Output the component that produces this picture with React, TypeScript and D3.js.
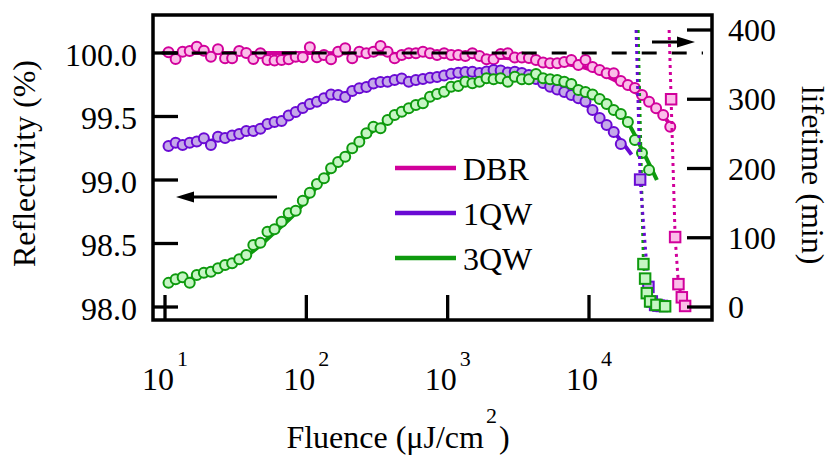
import React from 'react';
import * as d3 from 'd3';

// ---------- data ----------
const fluence = [
  10.59, 11.89, 13.33, 14.96, 16.79, 18.84, 21.13, 23.71, 26.61, 29.85, 33.5, 37.58, 42.17, 47.32, 53.09, 59.57, 66.83, 74.99, 84.14, 94.41,
  105.9, 118.9, 133.3, 149.6, 167.9, 188.4, 211.3, 237.1, 266.1, 298.5, 335.0, 375.8, 421.7, 473.2, 530.9, 595.7, 668.3, 749.9, 841.4, 944.1,
  1059, 1189, 1333, 1496, 1679, 1884, 2113, 2371, 2661, 2985, 3350, 3758, 4217, 4732, 5309, 5957, 6683, 7499, 8414, 9441,
  10590, 11890, 13330, 14960, 16790, 18840, 21130, 23710, 26610, 29850, 33500, 37580,
];

const dbrR = [
  100.005, 99.953, 100.01, 100.016, 100.05, 100.018, 99.971, 100.03, 99.958, 99.958,
  100.016, 100.0, 99.953, 99.998, 99.945, 99.94, 99.945, 99.95, 99.97, 99.966,
  100.045, 99.966, 99.984, 99.95, 100.01, 100.037, 99.958, 100.01, 99.998, 100.01,
  100.055, 100.01, 99.958, 99.984, 99.998, 99.998, 100.01, 99.998, 99.984, 99.998,
  99.984, 99.984, 99.976, 99.998, 99.976, 99.95, 99.95, 99.992, 99.998, 99.965,
  99.965, 99.96, 99.945, 99.925, 99.919, 99.919, 99.93, 99.945, 99.906, 99.945,
  99.89, 99.866, 99.84, 99.84, 99.78, 99.748, 99.724, 99.669, 99.617, 99.565, 99.512, 99.42,
];

const qw1R = [
  99.268, 99.294, 99.276, 99.294, 99.303, 99.328, 99.276, 99.341, 99.331, 99.35,
  99.362, 99.386, 99.386, 99.404, 99.441, 99.457, 99.465, 99.508, 99.535, 99.567,
  99.598, 99.617, 99.643, 99.673, 99.669, 99.654, 99.701, 99.722, 99.732, 99.76,
  99.772, 99.774, 99.787, 99.8, 99.774, 99.787, 99.795, 99.805, 99.811, 99.823,
  99.836, 99.844, 99.85, 99.853, 99.843, 99.854, 99.866, 99.862, 99.846, 99.853,
  99.843, 99.827, 99.795, 99.764, 99.735, 99.713, 99.693, 99.669, 99.643, 99.618,
  99.551, 99.488, 99.433, 99.378, 99.283,
];

const qw3R = [
  98.19, 98.218, 98.234, 98.191, 98.252, 98.27, 98.278, 98.305, 98.331, 98.344,
  98.376, 98.409, 98.488, 98.506, 98.593, 98.612, 98.672, 98.738, 98.758, 98.837,
  98.9, 98.969, 99.013, 99.092, 99.142, 99.183, 99.25, 99.302, 99.368, 99.42,
  99.407, 99.472, 99.512, 99.538, 99.565, 99.591, 99.604, 99.656, 99.677, 99.695,
  99.735, 99.74, 99.774, 99.761, 99.774, 99.801, 99.793, 99.801, 99.774, 99.813,
  99.793, 99.793, 99.835, 99.801, 99.793, 99.787, 99.774, 99.756, 99.709, 99.693,
  99.673, 99.638, 99.598, 99.551, 99.52, 99.457, 99.315, 99.213, 99.079,
];

// fit curves
const dbrFitF = [10.6, 100, 1000, 3000, 6000, 9000, 15000, 20000, 25000, 30000, 35000, 39400];
const dbrFitR = [100.0, 100.0, 99.985, 99.955, 99.92, 99.89, 99.79, 99.71, 99.64, 99.56, 99.48, 99.4];
const qw1FitF = [10.6, 21, 42, 60, 84, 106, 150, 211, 300, 421, 600, 944, 1333, 2113, 3000, 4217, 6683, 10590, 14960, 20000];
const qw1FitR = [99.28, 99.31, 99.38, 99.44, 99.52, 99.58, 99.65, 99.7, 99.745, 99.775, 99.795, 99.825, 99.845, 99.855, 99.84, 99.8, 99.7, 99.55, 99.38, 99.2];
const qw3FitF = [10.6, 15, 21, 30, 42, 60, 84, 106, 150, 211, 300, 421, 600, 944, 1333, 2113, 3350, 5309, 7499, 10590, 14960, 18840, 23710, 30200];
const qw3FitR = [98.2, 98.22, 98.27, 98.34, 98.44, 98.59, 98.74, 98.88, 99.08, 99.25, 99.39, 99.5, 99.59, 99.69, 99.75, 99.79, 99.8, 99.79, 99.73, 99.66, 99.55, 99.45, 99.24, 99.0];

// lifetime (right axis)
const dbrLifeF = [38110, 40680, 42930, 45370, 47870];
const dbrLifeT = [300, 101, 33, 14, 1.5];
const dbrLifeTop = [36890, 400];
const qw1LifeF = [23000, 26330, 27820, 29370, 31000, 32760];
const qw1LifeT = [184, 29, 8, 3, 2, 1.5];
const qw1LifeTop = [21540, 400];
const qw3LifeF = [24270, 24950, 25650, 27060, 30000, 34560];
const qw3LifeT = [62, 41, 20, 8, 3, 1];
const qw3LifeTop = [22260, 400];

const leftTicks = [98.0, 98.5, 99.0, 99.5, 100.0];
const rightTicks = [0, 100, 200, 300, 400];
const xTicks = [10, 100, 1000, 10000];
const legendNames = ['DBR', '1QW', '3QW'];

// ---------- style ----------
const C = {
  dbr: { s: '#d1009b', f: '#fbbde9' },
  qw1: { s: '#6a0ad4', f: '#c5a9e9' },
  qw3: { s: '#0e9a0e', f: '#c6f6c4' },
};
const FONT = 'Liberation Serif';

export default function App() {
  const L = 153, R = 712, T = 15, B = 320;
  const x = d3.scaleLog().domain([10, 10000]).range([165, 589]);
  const yL = d3.scaleLinear().domain([98, 100]).range([307, 53]);
  const yR = d3.scaleLinear().domain([0, 400]).range([307, 30]);

  const line = d3
    .line<[number, number]>()
    .x((d) => x(d[0]))
    .y((d) => yL(d[1]))
    .curve(d3.curveMonotoneX);
  const lineR = d3
    .line<[number, number]>()
    .x((d) => x(d[0]))
    .y((d) => yR(d[1]));

  const zip = (a: number[], b: number[]) => a.map((v, i) => [v, b[i]] as [number, number]);

  const series = [
    { key: 'dbr', R: dbrR, fitF: dbrFitF, fitR: dbrFitR, lf: dbrLifeF, lt: dbrLifeT, top: dbrLifeTop },
    { key: 'qw1', R: qw1R, fitF: qw1FitF, fitR: qw1FitR, lf: qw1LifeF, lt: qw1LifeT, top: qw1LifeTop },
    { key: 'qw3', R: qw3R, fitF: qw3FitF, fitR: qw3FitR, lf: qw3LifeF, lt: qw3LifeT, top: qw3LifeTop },
  ];

  const sq = 10.5;

  return (
    <svg width={830} height={455} style={{ position: 'absolute', left: 0, top: 0, background: '#fff' }}>
      <style>{`text, tspan { font-family: 'Liberation Serif', 'Tinos', 'Times New Roman' !important; }`}</style>
      {/* fit lines */}
      {series.map((s) => (
        <path
          key={'fit' + s.key}
          d={line(zip(s.fitF, s.fitR)) || ''}
          fill="none"
          stroke={(C as any)[s.key].s}
          strokeWidth={4}
        />
      ))}
      {/* circles */}
      {series.map((s) => (
        <g key={'c' + s.key}>
          {s.R.map((v, i) => (
            <circle
              key={i}
              cx={x(fluence[i])}
              cy={yL(v)}
              r={5}
              fill={(C as any)[s.key].f}
              stroke={(C as any)[s.key].s}
              strokeWidth={2}
            />
          ))}
        </g>
      ))}
      {/* dashed 100% line */}
      <line x1={161.7} x2={703} y1={yL(100)} y2={yL(100)} stroke="#000" strokeWidth={3} strokeDasharray="15,15" />

      {/* lifetime dotted lines and squares */}
      {[series[2], series[1], series[0]].map((s) => (
        <path
          key={'lt' + s.key}
          d={lineR([[s.top[0], s.top[1]] as [number, number], ...zip(s.lf, s.lt)]) || ''}
          fill="none"
          stroke={(C as any)[s.key].s}
          strokeWidth={3}
          strokeDasharray="3,4"
        />
      ))}
      {series.map((s) => (
        <g key={'sq' + s.key}>
          {s.lf.map((f, i) => (
            <rect
              key={i}
              x={x(f) - sq / 2}
              y={yR(s.lt[i]) - sq / 2}
              width={sq}
              height={sq}
              fill={(C as any)[s.key].f}
              stroke={(C as any)[s.key].s}
              strokeWidth={2}
            />
          ))}
        </g>
      ))}

      {/* arrows */}
      <line x1={277} x2={190} y1={197} y2={197} stroke="#000" strokeWidth={3} />
      <polygon points="176,197 194,191.5 194,202.5" fill="#000" />
      <line x1={652} x2={681} y1={42} y2={42} stroke="#000" strokeWidth={3} />
      <polygon points="695,42 677,36.5 677,47.5" fill="#000" />

      {/* frame */}
      <rect x={L} y={T} width={R - L} height={B - T} fill="none" stroke="#000" strokeWidth={3.5} />

      {/* left ticks */}
      {leftTicks.map((t) => (
        <g key={'lt' + t}>
          <line x1={L} x2={L + 25} y1={yL(t)} y2={yL(t)} stroke="#000" strokeWidth={3.3} />
          <text x={137} y={yL(t) + 12.5} textAnchor="end" fontFamily={FONT} fontSize={32}>
            {t.toFixed(1)}
          </text>
        </g>
      ))}
      {/* right ticks */}
      {rightTicks.map((t) => (
        <g key={'rt' + t}>
          <line x1={R - 25} x2={R} y1={yR(t)} y2={yR(t)} stroke="#000" strokeWidth={3.3} />
          <text x={728} y={yR(t) + 11} textAnchor="start" fontFamily={FONT} fontSize={32}>
            {t}
          </text>
        </g>
      ))}
      {/* bottom ticks */}
      {xTicks.map((t) => (
        <g key={'xt' + t}>
          <line x1={x(t)} x2={x(t)} y1={B} y2={B - 25} stroke="#000" strokeWidth={3.3} />
          <text x={x(t)} y={390} textAnchor="middle" fontFamily={FONT} fontSize={32}>
            10
            <tspan dx={3} dy={-24} fontSize={22}>
              {Math.round(Math.log10(t))}
            </tspan>
          </text>
        </g>
      ))}

      {/* axis titles */}
      <text x={398} y={448} textAnchor="middle" fontFamily={FONT} fontSize={32}>
        Fluence (μJ/cm
        <tspan dx={2} dy={-25} fontSize={22}>2</tspan>
        <tspan dx={2} dy={25}>)</tspan>
      </text>
      <text transform="translate(35,163.5) rotate(-90)" textAnchor="middle" fontFamily={FONT} fontSize={32}>
        Reflectivity (%)
      </text>
      <text transform="translate(802,175) rotate(90)" textAnchor="middle" fontFamily={FONT} fontSize={32}>
        lifetime (min)
      </text>

      {/* legend */}
      {legendNames.map((n, i) => {
        const k = ['dbr', 'qw1', 'qw3'][i];
        const ly = 168 + i * 45;
        return (
          <g key={n}>
            <line x1={395} x2={456} y1={ly} y2={ly} stroke={(C as any)[k].s} strokeWidth={4.5} />
            <text x={463} y={ly + 12} fontFamily={FONT} fontSize={32}>
              {n}
            </text>
          </g>
        );
      })}
    </svg>
  );
}
